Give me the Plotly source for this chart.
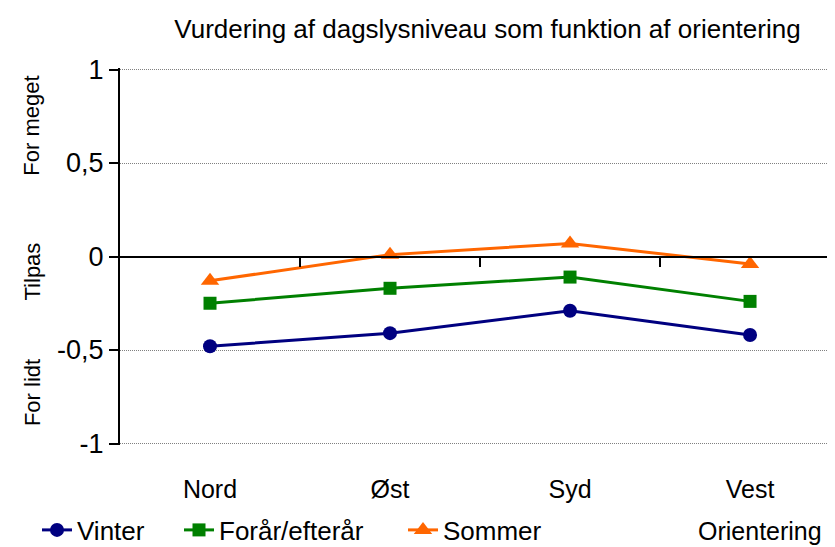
import plotly.graph_objects as go

categories = ["Nord", "Øst", "Syd", "Vest"]
vinter = [-0.48, -0.41, -0.29, -0.42]
foraar = [-0.25, -0.17, -0.11, -0.24]
sommer = [-0.13, 0.01, 0.07, -0.04]

y_tickvals = [1, 0.5, 0, -0.5, -1]
y_ticktext = ["1", "0,5", "0", "-0,5", "-1"]
band_labels = ["For meget", "Tilpas", "For lidt"]
band_pos = [0.70, -0.08, -0.73]

FONT = "Liberation Sans, Arial, sans-serif"
xpos = list(range(len(categories)))

# page body has an 8px margin, so the figure is laid out 8px smaller
W, H = 827, 539

fig = go.Figure()
series = [
    ("Vinter", vinter, "#000080", "circle", 14, "legend", 29),
    ("Forår/efterår", foraar, "#008000", "square", 13, "legend2", 171),
    ("Sommer", sommer, "#FF6600", "triangle-up", 16, "legend3", 395),
]
legends = {}
for name, vals, col, sym, sz, lg, lx in series:
    fig.add_trace(go.Scatter(
        x=xpos, y=vals, name=name, mode="lines+markers",
        line=dict(color=col, width=3),
        marker=dict(symbol=sym, size=sz, color=col),
        legend=lg,
    ))
    legends[lg] = dict(orientation="h", xref="container", yref="container",
                       x=lx / W, xanchor="left", y=17 / H, yanchor="middle",
                       font=dict(size=26), bgcolor="rgba(0,0,0,0)")

# invisible trace to host the zero-crossing axis with tick marks
fig.add_trace(go.Scatter(x=xpos, y=[0]*len(xpos), xaxis="x2", mode="lines",
                         line=dict(width=0), showlegend=False, hoverinfo="skip"))

xr = [-0.5, 3.472]
fig.update_layout(
    width=W, height=H,
    margin=dict(l=112, r=0, t=60, b=102),
    paper_bgcolor="white", plot_bgcolor="white",
    font=dict(family=FONT, size=24, color="black"),
    title=dict(text="Vurdering af dagslysniveau som funktion af orientering",
               x=479.5 / W, xanchor="center", y=(H - 21) / H, yanchor="middle",
               yref="container", xref="container", font=dict(size=26)),
    xaxis=dict(range=xr, tickvals=xpos, ticktext=categories, showgrid=False,
               zeroline=False, showline=False, ticks="", ticklabelstandoff=27,
               tickfont=dict(size=25), automargin=False),
    xaxis2=dict(range=xr, overlaying="x", anchor="free", position=0.5,
                side="bottom", showline=True, linecolor="black", linewidth=2,
                tickvals=[0.5, 1.5, 2.5], ticks="outside", ticklen=9,
                tickwidth=1.5, tickcolor="black", showticklabels=False,
                showgrid=False, zeroline=False, automargin=False),
    yaxis=dict(range=[-1.008, 1.008], tickvals=y_tickvals, ticktext=y_ticktext,
               showgrid=True, gridcolor="#808080", griddash="1px,1px", gridwidth=1,
               zeroline=False, showline=True, linecolor="black", linewidth=2,
               ticks="outside", ticklen=9, tickcolor="black", tickwidth=1.5,
               tickfont=dict(size=27), automargin=False),
    showlegend=True,
    **legends,
)

for txt, yv in zip(band_labels, band_pos):
    fig.add_annotation(text=txt, xref="paper", yref="y", x=-0.123, y=yv,
                       textangle=-90, showarrow=False, xanchor="center",
                       yanchor="middle", font=dict(size=22))

fig.add_annotation(text="Orientering", xref="paper", yref="paper",
                   x=0.895, y=-0.228, showarrow=False, xanchor="center",
                   yanchor="middle", font=dict(size=25))

fig.write_html("out.html")
